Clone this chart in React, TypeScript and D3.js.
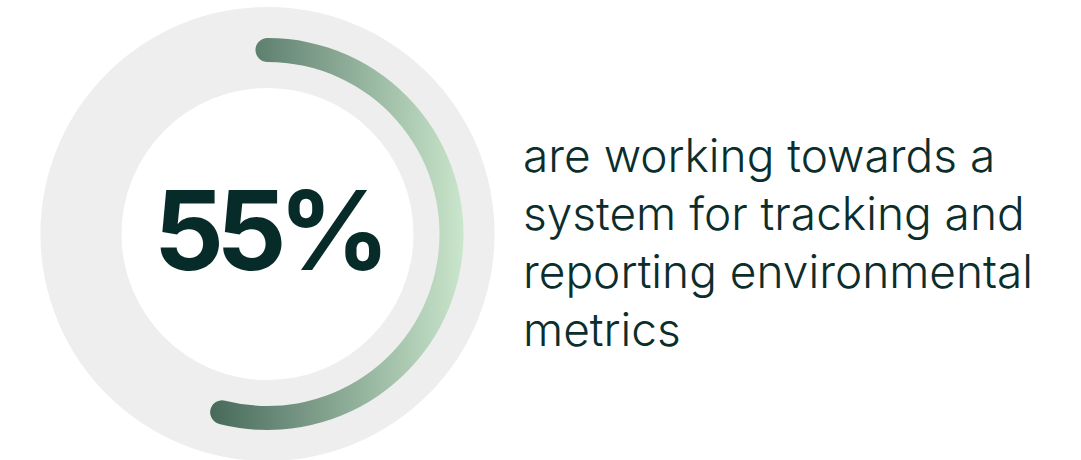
import React from "react";
import * as d3 from "d3";

const shareValues = [55];
const shareLabels = ["55%"];
const captionLines = [
  "are working towards a",
  "system for tracking and",
  "reporting environmental",
  "metrics",
];

const width = 1081;
const height = 460;
const cx = 267.5;
const cy = 234;

const App: React.FC = () => {
  const angle = d3.scaleLinear().domain([0, 100]).range([0, 2 * Math.PI]);

  const ring = d3
    .arc<any>()
    .innerRadius(146)
    .outerRadius(227)
    .startAngle(0)
    .endAngle(2 * Math.PI);

  // progress band, round ends via cornerRadius
  const bandInner = 172;
  const bandOuter = 196;
  const cap = (bandOuter - bandInner) / 2;
  const capAngle = cap / ((bandInner + bandOuter) / 2);

  const band = d3
    .arc<number>()
    .innerRadius(bandInner)
    .outerRadius(bandOuter)
    .cornerRadius(cap)
    .startAngle(-capAngle)
    .endAngle((d) => angle(d));

  const lineY = d3
    .scaleLinear()
    .domain([0, captionLines.length - 1])
    .range([172, 346]);

  return (
    <svg
      width={width}
      height={height}
      style={{ position: "absolute", left: 0, top: 0, background: "#ffffff" }}
    >
      <defs>
        <linearGradient
          id="bandGrad"
          gradientUnits="userSpaceOnUse"
          x1={210 - cx}
          y1={0}
          x2={466 - cx}
          y2={0}
        >
          <stop offset="0" stopColor="#46695a" />
          <stop offset="1" stopColor="#cbe7cd" />
        </linearGradient>
      </defs>
      <g transform={`translate(${cx},${cy})`}>
        <path d={ring(null) || ""} fill="#eeeeee" />
        {shareValues.map((v, i) => (
          <path key={i} d={band(v) || ""} fill="url(#bandGrad)" />
        ))}
      </g>
      {shareLabels.map((t, i) => (
        <text
          key={i}
          x={268}
          y={270}
          textAnchor="middle"
          fontFamily="Inter"
          fontWeight={700}
          fontSize={110}
          letterSpacing={-8}
          fill="#072b29"
        >
          {t}
        </text>
      ))}
      {captionLines.map((t, i) => (
        <text
          key={i}
          x={523}
          y={lineY(i)}
          fontFamily="Inter"
          fontWeight={300}
          fontSize={46}
          fill="#0b2e2c"
        >
          {t}
        </text>
      ))}
    </svg>
  );
};

export default App;
